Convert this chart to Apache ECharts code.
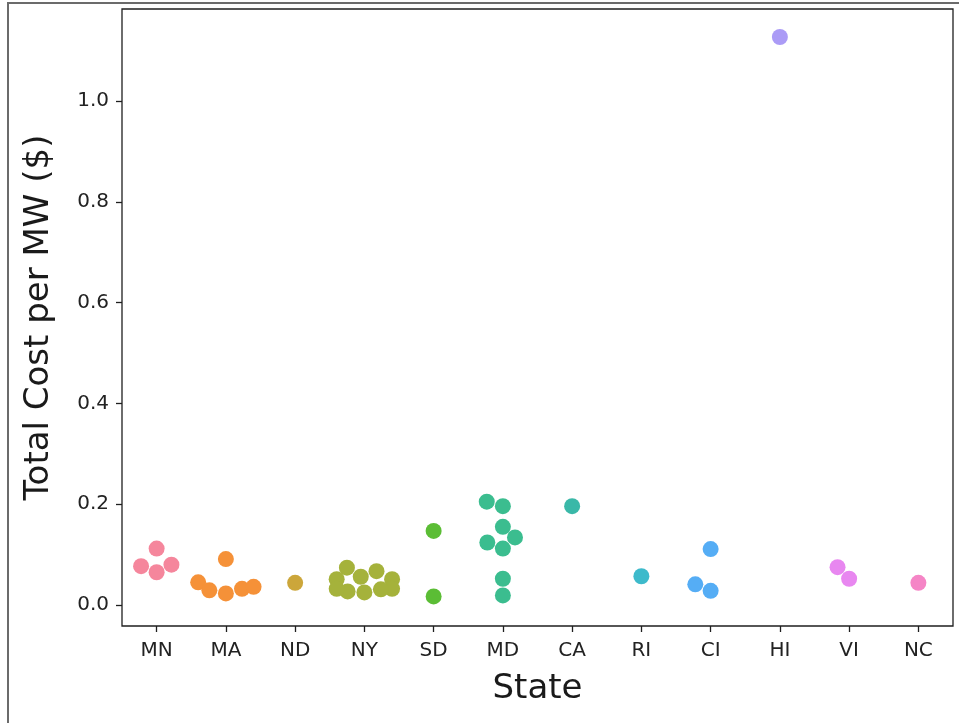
<!DOCTYPE html>
<html>
<head>
<meta charset="utf-8">
<script src="https://cdn.jsdelivr.net/npm/echarts@6/dist/echarts.min.js"></script>
<style>
  html, body { margin: 0; padding: 0; background: #ffffff; }
  #chart { width: 959px; height: 723px; }
</style>
</head>
<body>
<div id="chart"></div>
<script>
// Categories and per-state cost values
const states = ['MN', 'MA', 'ND', 'NY', 'SD', 'MD', 'CA', 'RI', 'CI', 'HI', 'VI', 'NC'];

const costMN = [0.112, 0.077, 0.080, 0.065];
const costMA = [0.091, 0.045, 0.029, 0.023, 0.032, 0.036];
const costND = [0.044];
const costNY = [0.074, 0.067, 0.056, 0.051, 0.051, 0.032, 0.027, 0.025, 0.031, 0.032];
const costSD = [0.147, 0.017];
const costMD = [0.205, 0.196, 0.155, 0.134, 0.124, 0.112, 0.052, 0.019];
const costCA = [0.196];
const costRI = [0.057];
const costCI = [0.111, 0.041, 0.028];
const costHI = [1.127];
const costVI = [0.075, 0.052];
const costNC = [0.044];

const stateCosts = [costMN, costMA, costND, costNY, costSD, costMD,
                    costCA, costRI, costCI, costHI, costVI, costNC];

const yTicks = [0, 0.2, 0.4, 0.6, 0.8, 1.0];
const yMin = -0.0417;
const yMax = 1.1825;

const stateColors = ['#f5869c', '#f59138', '#cca63a', '#a5b23b', '#5bbd35', '#3bbd8f',
                     '#3ab8a8', '#3dbacb', '#55adf5', '#ab9bf6', '#e887f0', '#f585c6'];

const FONT = 'DejaVu Sans';
const DOT_RADIUS = 8;
const SWARM_HALF_WIDTH = 0.4;   // points beyond this are held at the gutter

// Beeswarm placement (pixel space): points sorted by value, each one put at the
// candidate position nearest the midline that does not overlap placed points.
function beeswarm(values, pxPerUnit, r) {
  const order = values.map((v, i) => i).sort((a, b) => values[a] - values[b]);
  const placed = [];
  const offsets = new Array(values.length);
  order.forEach(idx => {
    const y = values[idx] * pxPerUnit;
    const neighbors = placed.filter(p => Math.abs(y - p.y) < 2 * r);
    const cands = [0];
    let leftFirst = true;
    neighbors.forEach(p => {
      const dy = y - p.y;
      const dx = Math.sqrt(Math.max(4 * r * r - dy * dy, 0)) * 1.05;
      if (leftFirst) cands.push(p.x - dx, p.x + dx);
      else cands.push(p.x + dx, p.x - dx);
      leftFirst = !leftFirst;
    });
    const sorted = cands.map((c, i) => ({ c, i }))
      .sort((a, b) => (Math.abs(a.c) - Math.abs(b.c)) || (a.i - b.i));
    let x = sorted[sorted.length - 1].c;
    for (const s of sorted) {
      const ok = neighbors.every(p => (p.x - s.c) ** 2 + (p.y - y) ** 2 >= 4 * r * r - 1e-6);
      if (ok) { x = s.c; break; }
    }
    placed.push({ x, y });
    offsets[idx] = x;
  });
  return offsets;
}

const chart = echarts.init(document.getElementById('chart'), null, { renderer: 'canvas' });

const axisTextColor = '#222222';
const lineColor = '#1f1f1f';

chart.setOption({
  animation: false,
  backgroundColor: '#ffffff',
  graphic: [{
    type: 'polyline',
    shape: { points: [[8, 723], [8, 3], [959, 3]] },
    style: { stroke: '#6b6b6b', lineWidth: 2, fill: null },
    silent: true
  }],
  grid: {
    left: 122, right: 6, top: 9, bottom: 97,
    show: true, borderColor: lineColor, borderWidth: 1.3, backgroundColor: 'transparent'
  },
  xAxis: [{
    type: 'category',
    data: states,
    boundaryGap: true,
    name: 'State',
    nameLocation: 'middle',
    nameGap: 46,
    nameTextStyle: { fontFamily: FONT, fontSize: 34, color: '#1a1a1a' },
    axisLine: { show: false, onZero: false },
    axisTick: { show: true, alignWithLabel: true, length: 6, lineStyle: { color: lineColor, width: 1.3 } },
    axisLabel: { fontFamily: FONT, fontSize: 20, color: axisTextColor, margin: 15 },
    splitLine: { show: false }
  }, {
    type: 'value',
    min: -0.5,
    max: states.length - 0.5,
    axisLine: { show: false, onZero: false },
    show: false
  }],
  yAxis: {
    type: 'value',
    min: yMin,
    max: yMax,
    name: 'Total Cost per MW ($)',
    nameLocation: 'middle',
    nameGap: 66,
    nameTextStyle: { fontFamily: FONT, fontSize: 34, color: '#1a1a1a' },
    axisLine: { show: false, onZero: false },
    axisTick: { show: true, length: 6, customValues: yTicks, lineStyle: { color: lineColor, width: 1.3 } },
    axisLabel: {
      fontFamily: FONT, fontSize: 20, color: axisTextColor, margin: 13,
      customValues: yTicks,
      formatter: v => v.toFixed(1)
    },
    splitLine: { show: false }
  },
  series: []
});

// Pixel scales from the axes, used for the swarm layout
const y0 = chart.convertToPixel({ yAxisIndex: 0 }, 0);
const y1 = chart.convertToPixel({ yAxisIndex: 0 }, 1);
const pxPerY = Math.abs(y0 - y1);
const x0 = chart.convertToPixel({ xAxisIndex: 1 }, 0);
const x1 = chart.convertToPixel({ xAxisIndex: 1 }, 1);
const pxPerX = Math.abs(x1 - x0);

const series = states.map((st, i) => {
  const vals = stateCosts[i];
  const offs = beeswarm(vals, pxPerY, DOT_RADIUS)
    .map(o => Math.max(-SWARM_HALF_WIDTH, Math.min(SWARM_HALF_WIDTH, o / pxPerX)));
  return {
    name: st,
    type: 'scatter',
    xAxisIndex: 1,
    yAxisIndex: 0,
    symbol: 'circle',
    symbolSize: DOT_RADIUS * 2,
    itemStyle: { color: stateColors[i], opacity: 1 },
    data: vals.map((v, k) => [i + offs[k], v]),
    z: 3
  };
});

chart.setOption({ series });
</script>
</body>
</html>
